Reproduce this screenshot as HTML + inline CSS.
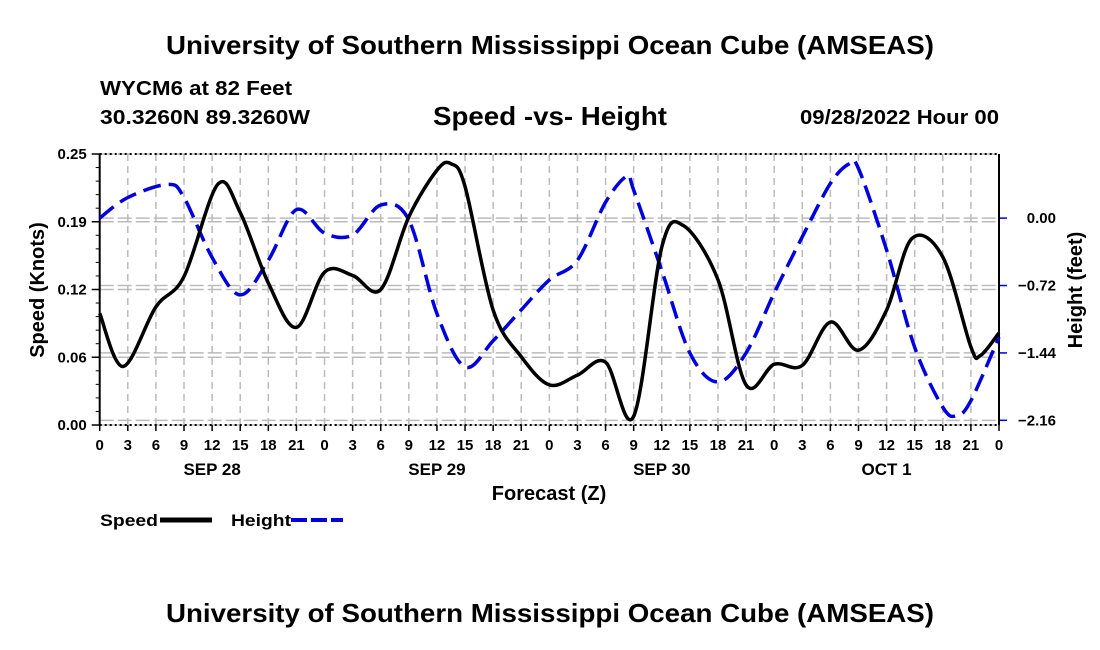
<!DOCTYPE html>
<html><head><meta charset="utf-8"><style>
body{margin:0;background:#fff;}
svg{display:block;font-family:"Liberation Sans",sans-serif;font-weight:bold;}
</style></head><body>
<svg id="c" width="1100" height="650" viewBox="0 0 1100 650">
<text x="166" y="54" font-size="26" textLength="768" lengthAdjust="spacingAndGlyphs">University of Southern Mississippi Ocean Cube (AMSEAS)</text>
<text x="100" y="95" font-size="20" textLength="192" lengthAdjust="spacingAndGlyphs">WYCM6 at 82 Feet</text>
<text x="100" y="124" font-size="20" textLength="210" lengthAdjust="spacingAndGlyphs">30.3260N  89.3260W</text>
<text x="433" y="125" font-size="26" textLength="234" lengthAdjust="spacingAndGlyphs">Speed -vs- Height</text>
<text x="800" y="124" font-size="20" textLength="199" lengthAdjust="spacingAndGlyphs">09/28/2022 Hour 00</text>
<g id="grid"></g>
<g id="axes"></g>
<g id="series"></g>
<text x="549" y="500" text-anchor="middle" font-size="20">Forecast (Z)</text>
<text transform="translate(44,290) rotate(-90)" text-anchor="middle" font-size="20">Speed (Knots)</text>
<text transform="translate(1082,290) rotate(-90)" text-anchor="middle" font-size="20">Height (feet)</text>
<g>
<text x="100" y="526" font-size="17" textLength="58" lengthAdjust="spacingAndGlyphs">Speed</text>
<line x1="160" y1="520" x2="212" y2="520" stroke="#000" stroke-width="5"/>
<text x="231" y="526" font-size="17" textLength="60" lengthAdjust="spacingAndGlyphs">Height</text>
<line x1="291" y1="520" x2="343" y2="520" stroke="#0000dd" stroke-width="4" stroke-dasharray="16,4"/>
</g>
<text x="166" y="622" font-size="26" textLength="768" lengthAdjust="spacingAndGlyphs">University of Southern Mississippi Ocean Cube (AMSEAS)</text>
</svg>
<script>
const hours=[0,2.5,6,9,12.6,15,18,21,24,27,30,33,36,37.5,39,42,45,48,51,54,57,60,62.3,66,69,72,75,78,81,84,86.7,90,93,94,96];
const speed=[0.103,0.054,0.109,0.137,0.222,0.196,0.131,0.090,0.141,0.138,0.125,0.192,0.235,0.241,0.220,0.106,0.063,0.037,0.046,0.058,0.008,0.164,0.184,0.134,0.037,0.056,0.055,0.095,0.069,0.106,0.172,0.155,0.072,0.064,0.085];
const hHours=[0,3,7.3,9,12,15,18,21,24,27,30,33,36,39,42,45,48,51,54,56.3,57,60,63,66,69,72,75,78,80,81,84,87,90,91.5,93,96];
const height=[0.00,0.22,0.36,0.22,-0.42,-0.82,-0.45,0.09,-0.16,-0.18,0.14,-0.02,-1.02,-1.59,-1.31,-0.98,-0.66,-0.45,0.17,0.45,0.30,-0.56,-1.44,-1.75,-1.44,-0.80,-0.20,0.37,0.58,0.53,-0.34,-1.38,-2.02,-2.11,-1.95,-1.27];
const xTickLabels=["0","3","6","9","12","15","18","21"];
const dayLabels=["SEP 28","SEP 29","SEP 30","OCT 1"];
const leftTicks=[0,0.0625,0.125,0.1875,0.25];
const leftTickLabels=["0.00","0.06","0.12","0.19","0.25"];
const rightTicks=[0,-0.72,-1.44,-2.16];
const rightTickLabels=["0.00","\u22120.72","\u22121.44","\u22122.16"];
const X0=99.7,X1=999,YT=154,YB=425;
const xs=h=>X0+(X1-X0)*h/96;
const yl=v=>YB-(YB-YT)*v/0.25;
const RMIN=-2.21,RMAX=0.685;
const yr=v=>YB-(YB-YT)*(v-RMIN)/(RMAX-RMIN);
const NS="http://www.w3.org/2000/svg";
function mk(p,tag,a){const e=document.createElementNS(NS,tag);for(const k in a)e.setAttribute(k,a[k]);p.appendChild(e);return e;}
const grid=document.getElementById('grid'),axes=document.getElementById('axes'),ser=document.getElementById('series');
for(let h=0;h<=96;h+=3){
 const g=mk(grid,'line',{x1:xs(h),x2:xs(h),y1:YT,y2:YB,stroke:'#bbb','stroke-width':1.5,'stroke-dasharray':'7,5'});
 
 
 const t=mk(axes,'line',{x1:xs(h),x2:xs(h),y1:YB,y2:YB+6,stroke:'#000','stroke-width':1.5});
 
 
 const tl=mk(axes,'text',{x:xs(h),y:450,'text-anchor':'middle','font-size':15});
 tl.textContent=xTickLabels[(h/3)%8];
 
 
}
dayLabels.forEach((d,i)=>{const t=mk(axes,'text',{x:xs(12+24*i),y:475,'text-anchor':'middle','font-size':17});t.textContent=d;
 
 });
leftTicks.forEach((v,i)=>{
 const g=mk(grid,'line',{x1:X0,x2:X1,y1:yl(v),y2:yl(v),stroke:'#bbb','stroke-width':1.5,'stroke-dasharray':'14,4'});
 
 
 const t=mk(axes,'line',{x1:X0-8,x2:X0,y1:yl(v),y2:yl(v),stroke:'#000','stroke-width':1.5});
 
 
 const tl=mk(axes,'text',{x:X0-13,y:yl(v)+5,'text-anchor':'end','font-size':15});
 tl.textContent=leftTickLabels[i];
 
 
});
for(let v=0;v<=0.25;v+=0.0125){const t=mk(axes,'line',{x1:X0-4,x2:X0,y1:yl(v),y2:yl(v),stroke:'#000','stroke-width':1});
 
 }
rightTicks.forEach((v,i)=>{
 const g=mk(grid,'line',{x1:X0,x2:X1,y1:yr(v),y2:yr(v),stroke:'#bbb','stroke-width':1.5,'stroke-dasharray':'14,4'});
 
 
 const t=mk(axes,'line',{x1:X1,x2:X1+8,y1:yr(v),y2:yr(v),stroke:'#0000dd','stroke-width':1.5});
 
 
 const tl=mk(axes,'text',{x:1056,y:yr(v)+5,'text-anchor':'end','font-size':15});
 tl.textContent=rightTickLabels[i];
 
 
});
[[X0,YT,X1,YT,'2,3'],[X0,YB,X1,YB,'2,3']].forEach(a=>{const l=mk(axes,'line',{x1:a[0],y1:a[1],x2:a[2],y2:a[3],stroke:'#000','stroke-width':2,'stroke-dasharray':a[4]});
 
 });
const la=mk(axes,'line',{x1:X0,y1:YT,x2:X0,y2:YB,stroke:'#000','stroke-width':2});


const ra=mk(axes,'line',{x1:X1,y1:YT,x2:X1,y2:YB,stroke:'#000','stroke-width':2});


function path(pts){let d='M'+pts[0][0]+','+pts[0][1];
 for(let i=0;i<pts.length-1;i++){const p0=pts[Math.max(0,i-1)],p1=pts[i],p2=pts[i+1],p3=pts[Math.min(pts.length-1,i+2)];
  const c1=[p1[0]+(p2[0]-p0[0])/6,p1[1]+(p2[1]-p0[1])/6],c2=[p2[0]-(p3[0]-p1[0])/6,p2[1]-(p3[1]-p1[1])/6];
  d+=' C'+c1+' '+c2+' '+p2;}
 return d;}
const hp=mk(ser,'path',{d:path(hHours.map((h,i)=>[xs(h),yr(height[i])])),fill:'none',stroke:'#0000dd','stroke-width':3.5,'stroke-dasharray':'18,8'});


const sp=mk(ser,'path',{d:path(hours.map((h,i)=>[xs(h),yl(speed[i])])),fill:'none',stroke:'#000','stroke-width':3.5});


</script>
</body></html>
